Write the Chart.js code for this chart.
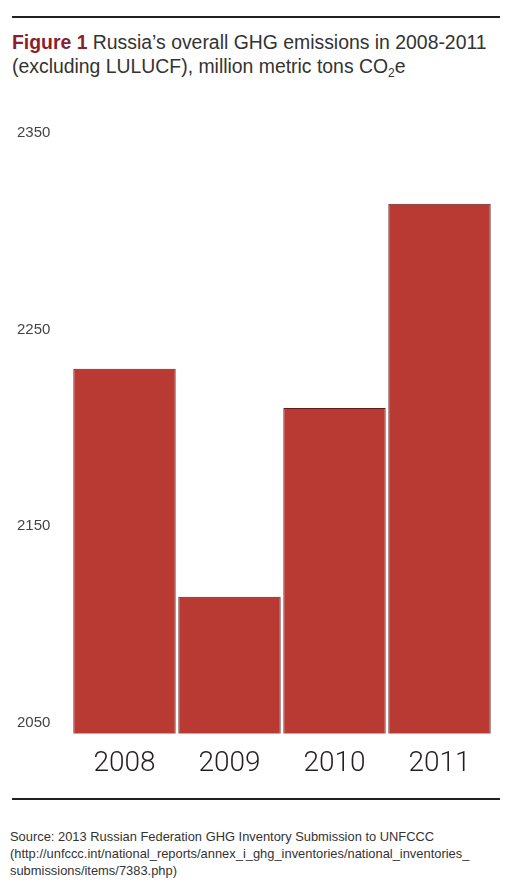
<!DOCTYPE html>
<html>
<head>
<meta charset="utf-8">
<script src="https://cdn.jsdelivr.net/npm/chart.js@4"></script>
<style>
  html, body { margin: 0; padding: 0; background: #fff; }
  body { width: 519px; height: 892px; position: relative; overflow: hidden; font-family: "Liberation Sans", Arial, sans-serif; }
  .rule { position: absolute; left: 12px; width: 488px; height: 2px; background: #231f20; }
  #title { position: absolute; left: 12px; top: 30px; font-size: 19.4px; line-height: 24px; color: #333; white-space: nowrap; }
  #title b { color: #8a1f2e; }
  #title sub { font-size: 12px; vertical-align: -4px; line-height: 0; }
  #wrap { position: absolute; left: 0; top: 100px; width: 519px; height: 704px; }
  #source { position: absolute; left: 10px; top: 828px; font-size: 12.9px; line-height: 17px; color: #333; white-space: nowrap; }
</style>
</head>
<body>
<div class="rule" style="top:16px"></div>
<div id="title"><b>Figure 1</b> Russia’s overall GHG emissions in 2008-2011<br>(excluding LULUCF), million metric tons CO<sub>2</sub>e</div>
<div id="wrap"><canvas id="c"></canvas></div>
<div class="rule" style="top:798px"></div>
<div id="source">Source: 2013 Russian Federation GHG Inventory Submission to UNFCCC<br>(http://unfccc.int/national_reports/annex_i_ghg_inventories/national_inventories_<br>submissions/items/7383.php)</div>
<script>
const years = ["2008", "2009", "2010", "2011"];
const emissions = [2230, 2114, 2210, 2314];
const yTicks = [2050, 2150, 2250, 2350];

new Chart(document.getElementById('c'), {
  type: 'bar',
  data: {
    labels: years,
    datasets: [{
      data: emissions,
      backgroundColor: '#b93a33',
      borderColor: '#5e1c1c',
      borderWidth: 1,
      borderSkipped: false,
      barPercentage: 0.975,
      categoryPercentage: 1
    }]
  },
  options: {
    responsive: true,
    maintainAspectRatio: false,
    animation: false,
    layout: { padding: { left: 17, right: 27, top: 33, bottom: 9 } },
    plugins: { legend: { display: false }, tooltip: { enabled: false }, title: { display: false } },
    scales: {
      x: {
        grid: { display: false, drawTicks: false },
        border: { display: false },
        ticks: { padding: 14, color: '#231f20', font: { family: 'Roboto, "Liberation Sans", sans-serif', size: 28, weight: 300 } }
      },
      y: {
        min: 2044.4,
        max: 2350,
        grid: { display: false, drawTicks: false },
        border: { display: false },
        afterBuildTicks: (s) => { s.ticks = yTicks.map(v => ({ value: v })); },
        afterFit: (s) => { s.width = 55; },
        ticks: { crossAlign: 'far', color: '#444', callback: (v) => String(v), font: { family: '"Liberation Sans", Arial, sans-serif', size: 15 } }
      }
    }
  }
});
</script>
</body>
</html>
